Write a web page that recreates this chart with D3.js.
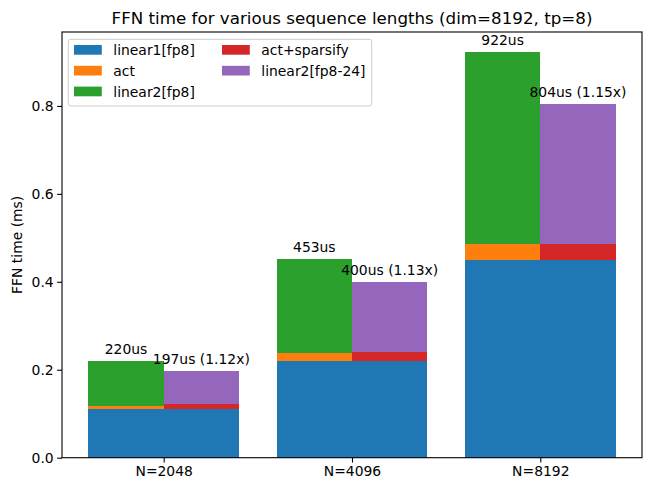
<!DOCTYPE html>
<html>
<head>
<meta charset="utf-8">
<script src="https://cdn.jsdelivr.net/npm/d3@7"></script>
<style>
  body { margin: 0; background: #fff; }
  text { font-family: "DejaVu Sans", sans-serif; fill: #000; }
</style>
</head>
<body>
<div id="chart"></div>
<script>
// values in ms
const categories = ["N=2048", "N=4096", "N=8192"];
const linear1Fp8 = [0.110, 0.220, 0.449];
const act = [0.007, 0.018, 0.036];
const linear2Fp8 = [0.103, 0.215, 0.437];
const actSparsify = [0.011, 0.021, 0.036];
const linear2Fp824 = [0.076, 0.159, 0.319];
const yTicks = [0.0, 0.2, 0.4, 0.6, 0.8];

const WIDTH = 651;
const HEIGHT = 491;
const MARGIN = { TOP: 32, RIGHT: 9, BOTTOM: 33.3, LEFT: 62 };
const BAR_WIDTH = 0.4;
const FONT = 13.9;

const COLORS = {
  linear1: "#1f77b4",
  act: "#ff7f0e",
  linear2: "#2ca02c",
  sparsify: "#d62728",
  linear224: "#9467bd",
};

const svg = d3.select("#chart")
  .append("svg")
    .attr("width", WIDTH)
    .attr("height", HEIGHT);

const x = d3.scaleLinear()
  .domain([-0.54, 2.54])
  .range([MARGIN.LEFT, WIDTH - MARGIN.RIGHT]);

const y = d3.scaleLinear()
  .domain([0, 0.9681])
  .range([HEIGHT - MARGIN.BOTTOM, MARGIN.TOP]);

// two stacked bars per category: dense on the left, sparse on the right
const denseStack = [
  { name: "linear1[fp8]", values: linear1Fp8, color: COLORS.linear1 },
  { name: "act", values: act, color: COLORS.act },
  { name: "linear2[fp8]", values: linear2Fp8, color: COLORS.linear2 },
];
const sparseStack = [
  { name: "linear1[fp8]", values: linear1Fp8, color: COLORS.linear1 },
  { name: "act+sparsify", values: actSparsify, color: COLORS.sparsify },
  { name: "linear2[fp8-24]", values: linear2Fp824, color: COLORS.linear224 },
];

function stackRects(stack, offset) {
  const rects = [];
  categories.forEach((c, i) => {
    let base = 0;
    stack.forEach(s => {
      rects.push({ i, offset, y0: base, y1: base + s.values[i], color: s.color });
      base += s.values[i];
    });
  });
  return rects;
}

const rects = stackRects(denseStack, -BAR_WIDTH / 2).concat(stackRects(sparseStack, BAR_WIDTH / 2));

svg.append("g")
  .selectAll("rect")
  .data(rects)
  .enter().append("rect")
    .attr("x", d => x(d.i + d.offset - BAR_WIDTH / 2))
    .attr("width", d => x(BAR_WIDTH) - x(0))
    .attr("y", d => y(d.y1))
    .attr("height", d => y(d.y0) - y(d.y1))
    .attr("fill", d => d.color)
    .attr("shape-rendering", "crispEdges");

// total labels
const denseTotal = categories.map((c, i) => denseStack.reduce((a, s) => a + s.values[i], 0));
const sparseTotal = categories.map((c, i) => sparseStack.reduce((a, s) => a + s.values[i], 0));

const labels = [];
categories.forEach((c, i) => {
  const dUs = Math.round(denseTotal[i] * 1000);
  const sUs = Math.round(sparseTotal[i] * 1000);
  labels.push({ pos: i - BAR_WIDTH / 2, top: denseTotal[i], text: `${dUs}us` });
  labels.push({ pos: i + BAR_WIDTH / 2, top: sparseTotal[i], text: `${sUs}us (${(dUs / sUs).toFixed(2)}x)` });
});

svg.append("g")
  .selectAll("text")
  .data(labels)
  .enter().append("text")
    .attr("x", d => x(d.pos))
    .attr("y", d => y(d.top) - 7)
    .attr("text-anchor", "middle")
    .attr("font-size", FONT)
    .text(d => d.text);

// axes
const xAxis = d3.axisBottom(x)
  .tickValues(categories.map((c, i) => i))
  .tickFormat(i => categories[i])
  .tickSize(4.86)
  .tickSizeOuter(0)
  .tickPadding(3.5);

const yAxis = d3.axisLeft(y)
  .tickValues(yTicks)
  .tickFormat(d3.format(".1f"))
  .tickSize(4.86)
  .tickSizeOuter(0)
  .tickPadding(3.5);

const xAxisGroup = svg.append("g")
  .attr("transform", `translate(0, ${HEIGHT - MARGIN.BOTTOM})`)
  .call(xAxis);

const yAxisGroup = svg.append("g")
  .attr("transform", `translate(${MARGIN.LEFT}, 0)`)
  .call(yAxis);

[xAxisGroup, yAxisGroup].forEach(g => {
  g.select(".domain").remove();
  g.selectAll("line").attr("stroke", "#000").attr("stroke-width", 1.1);
  g.selectAll("text")
    .attr("font-size", FONT)
    .attr("font-family", "DejaVu Sans, sans-serif")
    .attr("fill", "#000");
});

// frame
svg.append("rect")
  .attr("x", MARGIN.LEFT)
  .attr("y", MARGIN.TOP)
  .attr("width", WIDTH - MARGIN.RIGHT - MARGIN.LEFT)
  .attr("height", HEIGHT - MARGIN.BOTTOM - MARGIN.TOP)
  .attr("fill", "none")
  .attr("stroke", "#000")
  .attr("stroke-width", 1.1);

// title + y label
svg.append("text")
  .attr("x", (MARGIN.LEFT + WIDTH - MARGIN.RIGHT) / 2)
  .attr("y", 23.5)
  .attr("text-anchor", "middle")
  .attr("font-size", 16.7)
  .text("FFN time for various sequence lengths (dim=8192, tp=8)");

svg.append("text")
  .attr("x", -(MARGIN.TOP + HEIGHT - MARGIN.BOTTOM) / 2)
  .attr("y", 22)
  .attr("transform", "rotate(-90)")
  .attr("text-anchor", "middle")
  .attr("font-size", FONT)
  .text("FFN time (ms)");

// legend, two columns
const legendItems = [
  { name: "linear1[fp8]", color: COLORS.linear1, col: 0, row: 0 },
  { name: "act", color: COLORS.act, col: 0, row: 1 },
  { name: "linear2[fp8]", color: COLORS.linear2, col: 0, row: 2 },
  { name: "act+sparsify", color: COLORS.sparsify, col: 1, row: 0 },
  { name: "linear2[fp8-24]", color: COLORS.linear224, col: 1, row: 1 },
];

const legend = svg.append("g").attr("transform", "translate(68.3, 39.3)");

legend.append("rect")
  .attr("width", 303.4)
  .attr("height", 66.7)
  .attr("rx", 2.5)
  .attr("fill", "#fff")
  .attr("fill-opacity", 0.8)
  .attr("stroke", "#cccccc")
  .attr("stroke-width", 1);

const entry = legend.selectAll("g.entry")
  .data(legendItems)
  .enter().append("g")
    .attr("class", "entry")
    .attr("transform", d => `translate(${d.col === 0 ? 5.7 : 153.7}, ${10.7 + d.row * 20.8})`);

entry.append("rect")
  .attr("x", 0)
  .attr("y", -5)
  .attr("width", 27.8)
  .attr("height", 9.7)
  .attr("fill", d => d.color);

entry.append("text")
  .attr("x", 39.3)
  .attr("y", 5)
  .attr("font-size", FONT)
  .text(d => d.name);
</script>
</body>
</html>
